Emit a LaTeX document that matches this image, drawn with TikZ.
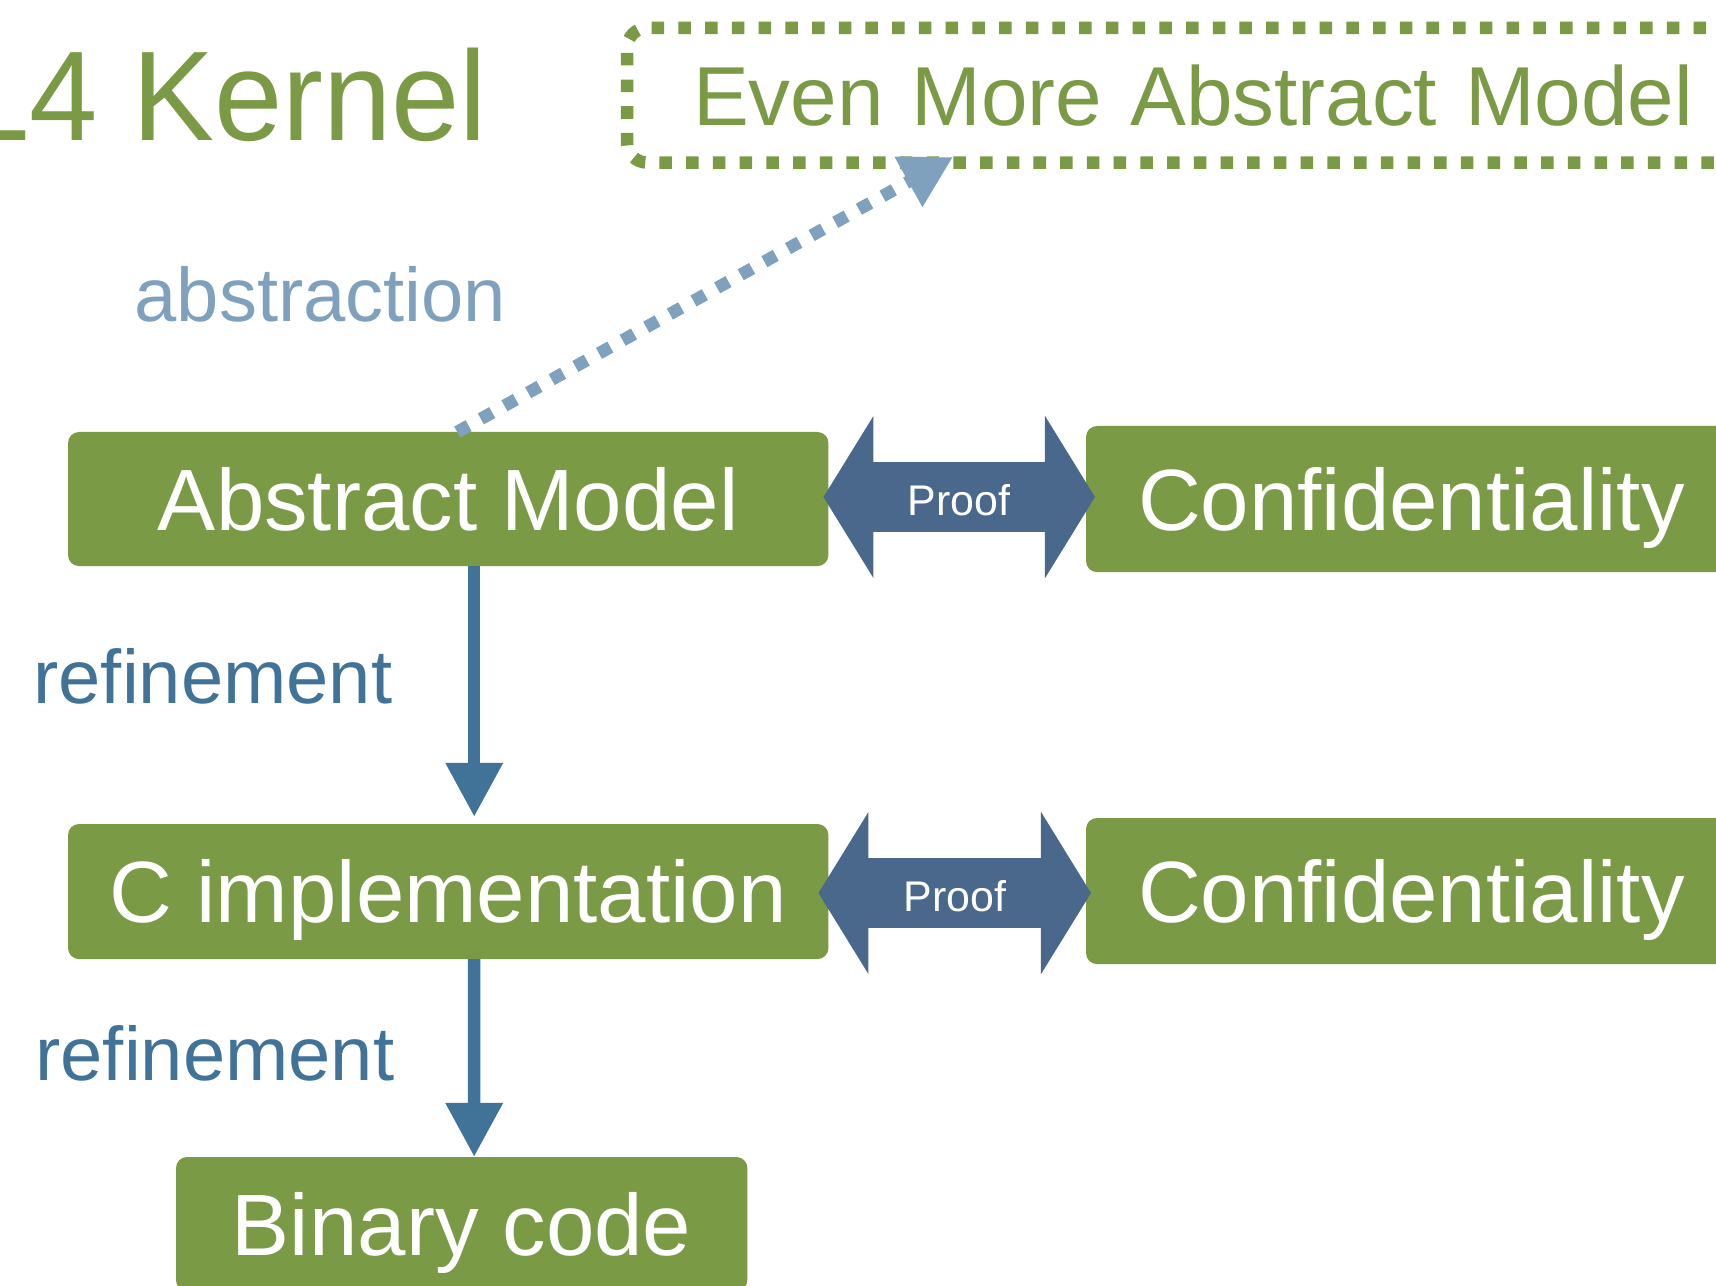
\documentclass[tikz,border=0pt]{standalone}
\usepackage{fontspec}
\setmainfont{Liberation Sans}
\usepackage{tikz}
\usetikzlibrary{arrows.meta,calc}

\definecolor{slgreen}{RGB}{122,154,70}
\definecolor{proofblue}{RGB}{74,104,139}
\definecolor{refblue}{RGB}{65,114,152}
\definecolor{absblue}{RGB}{127,161,189}

\begin{document}
\begin{tikzpicture}[x=0.01cm,y=-0.01cm,
    box/.style={fill=slgreen, rounded corners=0.11cm, text=white, inner sep=0pt, outer sep=0pt,
        font=\fontsize{24.75pt}{30pt}\selectfont, text height=17.7pt, text depth=0pt},
    sidebox/.style={box, minimum height=1.46cm, text width=6.5cm, align=left, inner xsep=0.52cm},
    proofarrow/.style={proofblue, line width=0.70cm,
        {Triangle[length=0.5cm,width=1.6cm]}-{Triangle[length=0.5cm,width=1.6cm]}},
    refarrow/.style={refblue, line width=0.125cm, -{Triangle[length=0.54cm,width=0.54cm]}},
    prooflabel/.style={text=white, font=\fontsize{12.2pt}{14pt}\selectfont,
        text height=8.7pt, text depth=0pt, inner sep=0pt},
    steplabel/.style={font=\fontsize{21.6pt}{26pt}\selectfont, inner sep=0pt}
]

            \useasboundingbox (0,0) rectangle (1716,1286);

            % Title (cut at the left edge)
            \node[anchor=base east, text=slgreen, font=\fontsize{36.3pt}{44pt}\selectfont, inner sep=0pt] (title) at (488,141) {\scalebox{0.962}[1]{L4 Kernel}};

            % Even More Abstract Model (dotted box)
            \node[anchor=north west, draw=slgreen, line width=0.125cm, dash pattern=on 0.125cm off 0.142cm,
                rounded corners=0.2cm, text=slgreen, font=\fontsize{23.8pt}{28pt}\selectfont,
                text height=17.1pt, text depth=0pt, minimum height=1.345cm, inner xsep=0.66cm, inner ysep=0pt,
                outer sep=0pt, text width=11cm, align=left] (ema) at (627,28) {Even More Abstract Model};

            % Boxes
            \node[box, minimum width=7.6cm, minimum height=1.34cm, anchor=north west] (am) at (68,432) {Abstract Model};
            \node[box, minimum width=7.6cm, minimum height=1.35cm, anchor=north west] (ci) at (68,824) {C implementation};
            \node[box, minimum width=5.71cm, minimum height=1.34cm, anchor=north west] (bin) at (176,1157) {Binary code};
            \node[sidebox, anchor=north west] (confa) at (1086,426) {Confidentiality};
            \node[sidebox, anchor=north west] (confb) at (1086,818) {Confidentiality};

            % Proof arrows
            \draw[proofarrow] ($(am.east)+(-5,-2)$) -- node[prooflabel, yshift=-0.03cm] (proofa) {Proof} ($(am.east -| confa.west)+(9,-2)$);
            \draw[proofarrow] ($(ci.east)+(-10,1.5)$) -- node[prooflabel, yshift=-0.03cm] (proofb) {Proof} ($(ci.east -| confb.west)+(5,1.5)$);

            % Refinement arrows
            \draw[refarrow] ($(am.south)+(26,0)$) -- ($(ci.north)+(26,-7)$);
            \node[steplabel, anchor=base east, text=refblue] (refa) at (393,703) {refinement};
            \draw[refarrow] ($(ci.south)+(26,0)$) -- ($(bin.north)+(12.5,0)$);
            \node[steplabel, anchor=base east, text=refblue] (refb) at (395,1080) {refinement};

            % Abstraction arrow
            \draw[absblue, line width=0.125cm, dash pattern=on 0.13cm off 0.14cm,
                -{Triangle[length=0.51cm,width=0.54cm]}] ($(am.north)+(9,0)$) -- ($(ema.south west)+(326,-5.5)$);
            \node[steplabel, anchor=base west, text=absblue] (absl) at (134,322) {abstraction};

\end{tikzpicture}
\end{document}
